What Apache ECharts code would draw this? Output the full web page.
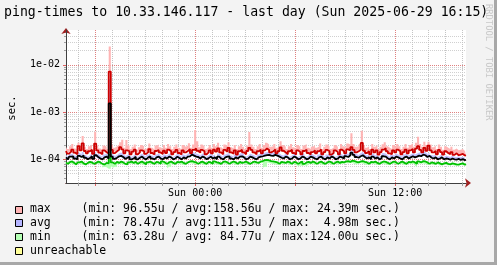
<!DOCTYPE html>
<html>
<head>
<meta charset="utf-8">
<script src="https://cdn.jsdelivr.net/npm/echarts@6/dist/echarts.min.js"></script>
<style>
  html, body { margin: 0; padding: 0; background: #f3f3f3; }
  #chart { width: 497px; height: 265px; }
</style>
</head>
<body>
<div id="chart"></div>
<script>
const MONO = '"DejaVu Sans Mono", monospace';

// 7.5-minute slots from Sat 16:15 to Sun 16:15 (193 points)
const times = [];
for (let s = (16 * 60 + 15) * 60; s <= (40 * 60 + 15) * 60; s += 450) {
  const day = s < 86400 ? 'Sat' : 'Sun';
  const t = s % 86400;
  const hh = String(Math.floor(t / 3600)).padStart(2, '0');
  const mm = String(Math.floor((t % 3600) / 60)).padStart(2, '0');
  const ss = t % 60 ? ':30' : '';
  times.push(`${day} ${hh}:${mm}${ss}`);
}

// values in microseconds
const maxLine = [
  150, 132, 145, 160, 138, 128, 191, 155, 218, 150, 134, 148, 160, 130, 215, 155,
  138, 128, 155, 142, 132, 7200, 158, 135, 148, 160, 180, 162, 134, 155, 148, 128,
  145, 160, 128, 140, 155, 148, 130, 142, 165, 136, 126, 150, 158, 140, 130, 152,
  136, 160, 148, 128, 142, 158, 136, 126, 155, 140, 150, 165, 135, 158, 170, 152,
  138, 158, 148, 128, 140, 155, 134, 160, 145, 170, 140, 128, 158, 145, 175, 140,
  132, 155, 126, 148, 160, 140, 128, 150, 175, 158, 140, 128, 148, 160, 134, 155,
  170, 158, 140, 148, 162, 134, 148, 178, 152, 140, 128, 148, 160, 136, 126, 155,
  142, 128, 150, 160, 136, 126, 142, 155, 134, 148, 162, 128, 142, 158, 148, 126,
  136, 155, 142, 128, 160, 148, 134, 162, 155, 180, 158, 140, 148, 160, 224, 152,
  136, 148, 128, 160, 140, 155, 126, 142, 160, 172, 148, 134, 128, 155, 140, 160,
  148, 128, 142, 160, 134, 155, 165, 140, 168, 190, 158, 140, 175, 152, 195, 155,
  140, 150, 128, 158, 142, 126, 148, 136, 128, 142, 124, 134, 122, 126, 130, 120,
  122,
];
const maxPeak = [
  185, 165, 190, 210, 170, 160, 225, 195, 311, 185, 165, 190, 205, 160, 384, 195,
  170, 160, 195, 185, 165, 24390, 200, 175, 190, 205, 230, 260, 175, 256, 195, 165,
  185, 205, 160, 180, 200, 190, 165, 180, 215, 175, 160, 195, 205, 180, 165, 200,
  175, 210, 190, 165, 185, 205, 175, 160, 200, 185, 195, 220, 175, 205, 418, 240,
  180, 205, 190, 165, 180, 200, 175, 210, 190, 225, 180, 165, 205, 190, 230, 180,
  170, 200, 165, 190, 210, 185, 165, 195, 380, 205, 185, 165, 190, 210, 175, 200,
  225, 205, 185, 190, 210, 175, 190, 240, 200, 185, 165, 190, 210, 180, 165, 200,
  185, 165, 195, 210, 175, 165, 185, 200, 175, 190, 215, 165, 185, 205, 190, 165,
  175, 200, 185, 165, 210, 190, 175, 215, 205, 355, 210, 185, 190, 210, 403, 200,
  175, 190, 165, 210, 185, 200, 165, 185, 208, 230, 190, 175, 165, 200, 185, 210,
  190, 165, 185, 210, 175, 200, 220, 185, 225, 302, 210, 185, 235, 200, 236, 205,
  180, 195, 165, 205, 185, 160, 190, 175, 165, 185, 160, 170, 155, 160, 165, 150,
  150,
];
const avgLine = [
  110, 100, 114, 116, 104, 100, 118, 112, 120, 108, 100, 106, 116, 102, 122, 112,
  104, 100, 110, 114, 104, 1530, 114, 102, 108, 116, 118, 112, 102, 108, 114, 100,
  104, 114, 100, 108, 114, 104, 100, 110, 116, 104, 100, 110, 114, 104, 100, 110,
  104, 114, 110, 100, 104, 114, 106, 100, 110, 104, 114, 116, 126, 120, 114, 112,
  104, 114, 110, 100, 106, 114, 104, 110, 100, 114, 104, 100, 110, 114, 116, 104,
  100, 110, 104, 114, 116, 110, 100, 104, 114, 110, 104, 100, 110, 114, 116, 120,
  122, 124, 120, 118, 124, 120, 114, 108, 104, 114, 110, 100, 104, 114, 110, 100,
  104, 114, 110, 100, 104, 114, 110, 104, 100, 110, 114, 104, 100, 110, 104, 114,
  110, 100, 104, 114, 110, 104, 116, 112, 122, 138, 124, 112, 108, 116, 122, 112,
  104, 110, 100, 114, 104, 110, 100, 104, 116, 114, 104, 100, 110, 104, 114, 110,
  104, 100, 110, 114, 104, 110, 116, 110, 114, 120, 116, 126, 122, 112, 118, 108,
  104, 110, 100, 104, 110, 100, 104, 102, 98, 104, 100, 98, 102, 97, 101, 96,
  98,
];
const avgPeak = [
  125, 114, 130, 134, 120, 114, 138, 128, 142, 124, 114, 122, 134, 118, 145, 130,
  120, 114, 126, 132, 120, 4980, 130, 118, 124, 134, 140, 130, 118, 124, 132, 114,
  120, 132, 114, 124, 132, 120, 114, 126, 134, 120, 114, 126, 132, 120, 114, 126,
  120, 132, 126, 114, 120, 132, 122, 114, 126, 120, 132, 136, 148, 140, 132, 128,
  120, 132, 126, 114, 122, 132, 120, 126, 114, 132, 120, 114, 126, 132, 136, 120,
  114, 126, 120, 132, 136, 126, 114, 120, 132, 126, 120, 114, 126, 132, 136, 140,
  142, 145, 140, 138, 145, 140, 132, 124, 120, 132, 126, 114, 120, 132, 126, 114,
  120, 132, 126, 114, 120, 132, 126, 120, 114, 126, 132, 120, 114, 126, 120, 132,
  126, 114, 120, 132, 126, 120, 136, 130, 142, 165, 145, 130, 124, 136, 142, 130,
  120, 126, 114, 132, 120, 126, 114, 120, 136, 132, 120, 114, 126, 120, 132, 126,
  120, 114, 126, 132, 120, 126, 136, 126, 132, 140, 136, 148, 142, 130, 138, 124,
  120, 126, 114, 120, 126, 114, 120, 116, 112, 120, 114, 112, 116, 110, 114, 108,
  110,
];
const minLine = [
  86, 80, 88, 90, 84, 78, 86, 90, 82, 78, 84, 88, 86, 80, 84, 90,
  86, 80, 78, 84, 82, 124, 86, 80, 88, 84, 90, 86, 80, 78, 86, 90,
  84, 88, 80, 86, 90, 84, 78, 86, 90, 84, 80, 88, 86, 80, 90, 86,
  80, 86, 90, 84, 80, 88, 86, 90, 84, 80, 86, 90, 92, 88, 86, 80,
  86, 90, 84, 80, 88, 86, 80, 90, 86, 84, 80, 88, 90, 86, 80, 86,
  90, 86, 80, 88, 84, 86, 90, 84, 80, 86, 90, 86, 84, 90, 92, 96,
  97, 95, 92, 90, 88, 86, 80, 88, 86, 84, 90, 86, 80, 88, 86, 80,
  86, 90, 80, 86, 88, 84, 90, 86, 80, 86, 90, 84, 80, 86, 90, 86,
  80, 86, 90, 84, 88, 86, 90, 92, 88, 94, 92, 88, 86, 90, 92, 88,
  86, 80, 88, 86, 90, 84, 80, 86, 90, 88, 84, 80, 86, 90, 86, 80,
  86, 90, 84, 80, 88, 86, 90, 86, 80, 90, 86, 92, 90, 86, 80, 86,
  84, 80, 86, 82, 78, 82, 84, 80, 78, 82, 80, 78, 77, 80, 82, 77,
  79,
];
const minLow = [
  80, 78, 82, 82, 78, 76, 80, 82, 78, 76, 80, 82, 80, 78, 80, 82,
  80, 78, 67, 70, 68, 63, 72, 66, 70, 78, 82, 80, 78, 76, 80, 82,
  80, 82, 78, 80, 82, 78, 76, 80, 82, 80, 78, 82, 80, 78, 82, 80,
  76, 65, 70, 80, 78, 82, 80, 82, 78, 76, 80, 82, 84, 82, 80, 78,
  80, 82, 78, 76, 80, 82, 78, 82, 80, 78, 76, 80, 82, 80, 78, 80,
  82, 80, 76, 80, 78, 80, 82, 78, 76, 80, 82, 80, 78, 82, 84, 66,
  70, 86, 84, 82, 80, 78, 76, 80, 80, 78, 82, 80, 76, 80, 80, 76,
  72, 74, 72, 76, 72, 78, 82, 80, 76, 80, 82, 78, 76, 80, 82, 80,
  76, 80, 82, 78, 80, 80, 82, 84, 82, 86, 84, 80, 78, 82, 84, 82,
  78, 76, 80, 80, 82, 78, 76, 80, 82, 80, 78, 76, 80, 82, 80, 78,
  80, 82, 78, 76, 80, 80, 82, 80, 72, 82, 80, 84, 82, 80, 76, 80,
  78, 76, 80, 78, 74, 78, 80, 76, 74, 78, 76, 74, 72, 76, 78, 74,
  76,
];

const legendNames = ['max', 'avg', 'min', 'unreachable'];
const legendStats = [
  '(min: 96.55u / avg:158.56u / max: 24.39m sec.)',
  '(min: 78.47u / avg:111.53u / max:  4.98m sec.)',
  '(min: 63.28u / avg: 84.77u / max:124.00u sec.)',
  '',
];
const legendColors = ['#ffb4b4', '#b4b4ff', '#b4ffb4', '#ffff99'];

const Y_MIN = 3.15e-5;
const Y_MAX = 0.0548;

const US = 1e-6;
const sec = (arr) => arr.map((v) => v * US);
const band = (top, base) => top.map((v, i) => (v - base[i]) * US);

const hourOf = (i) => Number(times[i].slice(4, 6));
const isHour = (i) => /:00$/.test(times[i]) && times[i].length === 9;
const isMajor = (i) => isHour(i) && hourOf(i) % 6 === 0;
const isMinor = (i) => isHour(i) && !isMajor(i);
const isLabel = (i) => isMajor(i) && times[i].startsWith('Sun') && hourOf(i) % 12 === 0;

// minor log gridlines 2..9 per decade, in log10 space
const minorGrid = [];
for (let e = -5; e <= -1; e++) {
  for (let k = 2; k <= 9; k++) {
    const lv = Math.log10(k) + e;
    if (lv > Math.log10(Y_MIN) && lv < Math.log10(Y_MAX)) minorGrid.push(lv);
  }
}

function stepLine(name, data, color, width, z) {
  return {
    name, type: 'line', data: sec(data), step: 'middle', showSymbol: false,
    silent: true, z, lineStyle: { color, width }, itemStyle: { color },
  };
}
function bandBase(stack, data) {
  return {
    type: 'line', stack, data: sec(data), step: 'middle', showSymbol: false,
    silent: true, z: 3, lineStyle: { width: 0, opacity: 0 },
  };
}
function bandTop(name, stack, data, color) {
  return {
    name, type: 'line', stack, data, step: 'middle', showSymbol: false,
    silent: true, z: 3, lineStyle: { width: 0, opacity: 0 },
    itemStyle: { color }, areaStyle: { color, opacity: 1 },
  };
}

const chart = echarts.init(document.getElementById('chart'), null, { renderer: 'canvas' });

const legendGraphics = [];
legendNames.forEach((name, i) => {
  const cy = 209.5 + i * 13.9;
  legendGraphics.push({
    type: 'rect', shape: { x: 15.5, y: Math.round(cy) - 3.5, width: 7, height: 7 },
    style: { fill: legendColors[i], stroke: '#000', lineWidth: 1 },
  });
  legendGraphics.push({
    type: 'text', x: 30, y: cy,
    style: { text: name, font: `11.5px ${MONO}`, fill: '#000', verticalAlign: 'middle' },
  });
  if (legendStats[i]) {
    legendGraphics.push({
      type: 'text', x: 81.5, y: cy,
      style: { text: legendStats[i], font: `11.5px ${MONO}`, fill: '#000', verticalAlign: 'middle' },
    });
  }
});

chart.setOption({
  backgroundColor: '#f3f3f3',
  animation: false,
  grid: { left: 66, right: 31, top: 30, bottom: 82, show: true, backgroundColor: '#ffffff', borderWidth: 0 },
  xAxis: [
    {
      type: 'category', data: times, boundaryGap: false, position: 'bottom', z: 2,
      axisLine: { show: true, lineStyle: { color: '#404040', width: 1 } },
      axisTick: { show: true, interval: isMinor, length: 3, lineStyle: { color: '#a0a0a0' } },
      axisLabel: { show: false },
      splitLine: { show: true, interval: isMinor, lineStyle: { color: '#c4c4c4', type: [1, 1] } },
    },
    {
      type: 'category', data: times, boundaryGap: false, position: 'bottom', z: 1,
      axisLine: {
        show: true, symbol: ['none', 'arrow'], symbolSize: [7, 6], symbolOffset: [0, 5],
        lineStyle: { color: '#a02020', width: 1 },
      },
      axisTick: { show: true, interval: isMajor, length: 3, lineStyle: { color: '#e06060' } },
      axisLabel: { interval: isLabel, margin: 5, fontFamily: MONO, fontSize: 10, color: '#000' },
      splitLine: { show: true, interval: isMajor, lineStyle: { color: '#e08080', type: [1, 1] } },
    },
  ],
  yAxis: [
    {
      type: 'log', logBase: 10, min: Y_MIN, max: Y_MAX, position: 'left', z: 2,
      axisLine: { show: true, lineStyle: { color: '#404040', width: 1 } },
      axisTick: { show: true, length: 3, lineStyle: { color: '#e06060' } },
      axisLabel: {
        showMinLabel: false, showMaxLabel: false, margin: 6,
        fontFamily: MONO, fontSize: 10, color: '#000',
        formatter: (v) => {
          const e = Math.round(Math.log10(v));
          if (Math.abs(Math.log10(v) - e) > 1e-6) return '';
          return '1e' + (e < 0 ? '-' : '+') + String(Math.abs(e)).padStart(2, '0');
        },
      },
      splitLine: { show: true, showMinLine: false, showMaxLine: false, lineStyle: { color: '#e08080', type: [1, 1] } },
    },
    {
      type: 'value', min: Math.log10(Y_MIN), max: Math.log10(Y_MAX), position: 'left', z: 1,
      axisLine: {
        show: true, symbol: ['none', 'arrow'], symbolSize: [7, 6], symbolOffset: [0, 2],
        lineStyle: { color: '#a02020', width: 1 },
      },
      axisTick: { show: true, length: 2, customValues: minorGrid, lineStyle: { color: '#a0a0a0' } },
      axisLabel: { show: false, customValues: minorGrid },
      splitLine: { show: true, showMinLine: false, showMaxLine: false, lineStyle: { color: '#d0d0d0', type: [1, 1] } },
    },
  ],
  series: [
    bandBase('mx', maxLine),
    bandTop('max', 'mx', band(maxPeak, maxLine), legendColors[0]),
    bandBase('av', avgLine),
    bandTop('avg', 'av', band(avgPeak, avgLine), '#c4c4ff'),
    bandBase('mn', minLow),
    bandTop('min', 'mn', band(minLine, minLow), legendColors[2]),
    stepLine('max line', maxLine, '#cc0000', 1.8, 5),
    stepLine('min line', minLine, '#00c000', 1.8, 5),
    stepLine('avg line', avgLine, '#000000', 1.8, 6),
  ],
  graphic: [
    { type: 'rect', shape: { x: 494, y: 0, width: 3, height: 265 }, style: { fill: '#a8a8a8' }, z: 10 },
    { type: 'rect', shape: { x: 0, y: 262, width: 497, height: 3 }, style: { fill: '#a8a8a8' }, z: 10 },
    {
      type: 'text', x: 488.5, y: 4, rotation: -Math.PI / 2, z: 1,
      style: { text: 'RRDTOOL / TOBI OETIKER', font: `8.8px ${MONO}`, fill: '#c8c8c8', verticalAlign: 'middle' },
    },
    {
      type: 'text', x: 4, y: 13, z: 2,
      style: { text: 'ping-times to 10.33.146.117 - last day (Sun 2025-06-29 16:15)', font: `13.2px ${MONO}`, fill: '#000', verticalAlign: 'middle' },
    },
    {
      type: 'text', x: 12, y: 108, rotation: Math.PI / 2,
      style: { text: 'sec.', font: `10.5px ${MONO}`, fill: '#000', align: 'center', verticalAlign: 'middle' },
    },
    ...legendGraphics,
  ],
});
</script>
</body>
</html>
